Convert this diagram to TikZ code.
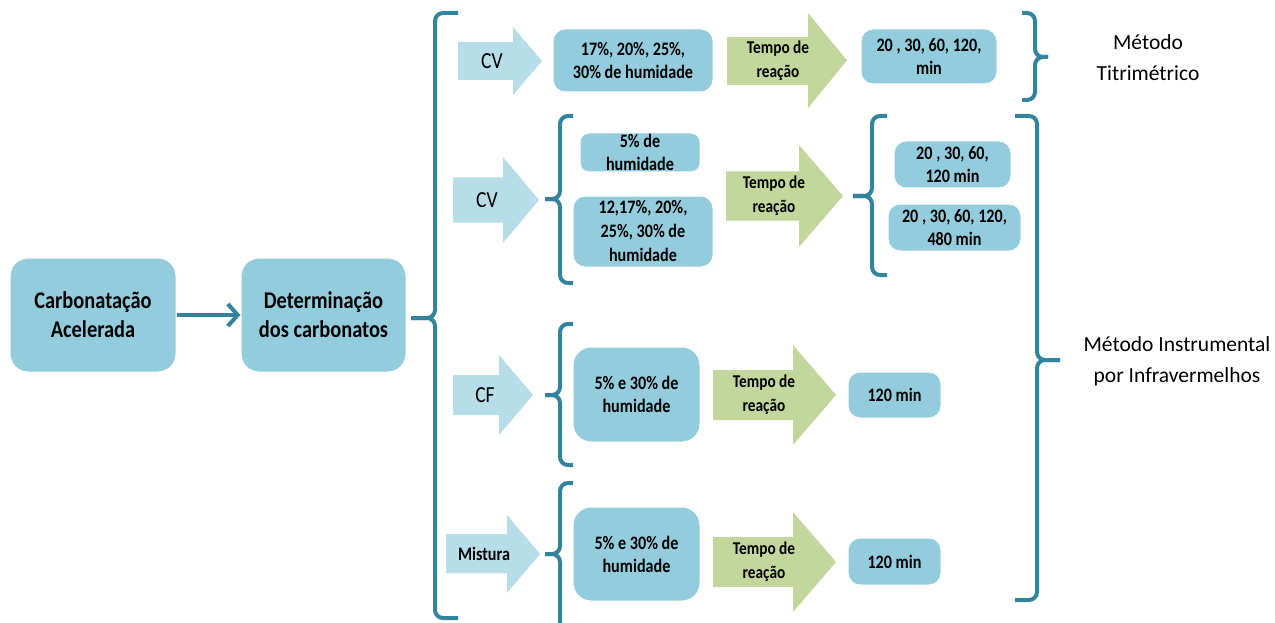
\documentclass[tikz,border=0pt]{standalone}
\usepackage{fontspec}
\setmainfont{Carlito}[FakeStretch=0.85]
\newfontfamily\widefont{Carlito}
\usetikzlibrary{arrows.meta}
\definecolor{darkteal}{HTML}{31849B}
\definecolor{boxblue}{HTML}{93CDDD}
\definecolor{paleblue}{HTML}{B7DEE8}
\definecolor{palegreen}{HTML}{C3D69B}
\tikzset{
	box/.style={fill=boxblue, draw=white, line width=1, rounded corners=12, align=center, inner sep=0, font=\bfseries\fontsize{19}{23}\selectfont},
	bigbox/.style={box, rounded corners=18, font=\bfseries\fontsize{24}{29}\selectfont},
	bracket/.style={draw=darkteal, line width=4, rounded corners=8},
	link/.style={draw=darkteal, line width=4, -{Straight Barb[length=10,width=22]}},
	fatarrow/.style={fill=paleblue},
	timearrow/.style={fill=palegreen},
	arrowtext/.style={align=center, inner sep=0, font=\fontsize{23}{26}\selectfont},
	tempo/.style={align=center, inner sep=0, font=\bfseries\fontsize{18}{24}\selectfont},
	method/.style={align=center, inner sep=0, font=\widefont\fontsize{21.5}{31}\selectfont}
}

\begin{document}
\begin{tikzpicture}[x=1pt, y=-1pt]
	\useasboundingbox (0,0) rectangle (1275,623);
	\node[bigbox, minimum width=166, minimum height=114] (carb) at (93,315) {Carbonatação\\Acelerada};
	\node[bigbox, minimum width=165, minimum height=114] (deter) at (323.5,315) {Determinação\\dos carbonatos};
	\draw[link] (carb) -- (deter);
	\draw[bracket] (458,13) -- (435,13) -- (435,318) -- (411,318);
	\draw[bracket] (458,618) -- (435,618) -- (435,318) -- (411,318);
	
	\fill[fatarrow] (458,42) -- (513,42) -- (513,27) -- (542,61) -- (513,95) -- (513,80) -- (458,80) -- cycle;
	\node[arrowtext] (cvA) at (492,61) {CV};
	\node[box, minimum width=160, minimum height=63] (humA) at (633,60.5) {17\%, 20\%, 25\%,\\30\% de humidade};
	\fill[timearrow] (727,37) -- (808,37) -- (808,13) -- (847,60.5) -- (808,108) -- (808,85) -- (727,85) -- cycle;
	\node[tempo] (tempoA) at (778,60.5) {Tempo de\\reação};
	\node[box, minimum width=136, minimum height=55] (timeA) at (929,56.5) {20 , 30, 60, 120,\\min};
	\draw[bracket] (1022,13) -- (1035,13) -- (1035,57) -- (1048,57);
	\draw[bracket] (1022,100) -- (1035,100) -- (1035,57) -- (1048,57);
	\node[method] (titr) at (1148,58) {Método\\Titrimétrico};
	
	\fill[fatarrow] (453,177.5) -- (503,177.5) -- (503,157) -- (539,200) -- (503,243) -- (503,222.5) -- (453,222.5) -- cycle;
	\node[arrowtext] (cvB) at (487,200) {CV};
	\draw[bracket] (573,116) -- (560,116) -- (560,199) -- (545,199);
	\draw[bracket] (573,283) -- (560,283) -- (560,199) -- (545,199);
	\node[box, rounded corners=9, minimum width=120, minimum height=39] (humB) at (640,152.5) {5\% de\\humidade};
	\node[box, minimum width=140, minimum height=71, font=\bfseries\fontsize{19}{24}\selectfont] (humC) at (643,231.5) {12,17\%, 20\%,\\25\%, 30\% de\\humidade};
	\fill[timearrow] (726,171.5) -- (799,171.5) -- (799,145) -- (843,196) -- (799,247) -- (799,220.5) -- (726,220.5) -- cycle;
	\node[tempo] (tempoB) at (774,196) {Tempo de\\reação};
	\draw[bracket] (887,116) -- (872,116) -- (872,196) -- (853,196);
	\draw[bracket] (887,275) -- (872,275) -- (872,196) -- (853,196);
	\node[box, minimum width=117, minimum height=47] (timeB) at (952.5,164.5) {20 , 30, 60,\\120 min};
	\node[box, minimum width=133, minimum height=47] (timeC) at (954.5,227.5) {20 , 30, 60, 120,\\480 min};
	\draw[bracket] (1015,116) -- (1037,116) -- (1037,360) -- (1060,360);
	\draw[bracket] (1015,600) -- (1037,600) -- (1037,360) -- (1060,360);
	\node[method] (instr) at (1177,361) {Método Instrumental\\por Infravermelhos};
	
	\fill[fatarrow] (453,375) -- (499,375) -- (499,355) -- (533,395) -- (499,435) -- (499,415) -- (453,415) -- cycle;
	\node[arrowtext] (cfC) at (485,395) {CF};
	\draw[bracket] (573,324) -- (560,324) -- (560,395) -- (545,395);
	\draw[bracket] (573,465) -- (560,465) -- (560,395) -- (545,395);
	\node[box, rounded corners=18, minimum width=127, minimum height=95] (humD) at (636.5,394.5) {5\% e 30\% de\\humidade};
	\fill[timearrow] (713,370) -- (793,370) -- (793,345) -- (836,395) -- (793,445) -- (793,420) -- (713,420) -- cycle;
	\node[tempo] (tempoC) at (764,395) {Tempo de\\reação};
	\node[box, minimum width=93, minimum height=46] (timeD) at (894.5,395) {120 min};
	
	\fill[fatarrow] (446,534) -- (507,534) -- (507,515) -- (540,554) -- (507,593) -- (507,573) -- (446,573) -- cycle;
	\node[arrowtext, font=\bfseries\fontsize{19}{22}\selectfont] (mixE) at (484,554) {Mistura};
	\draw[bracket] (573,483) -- (560,483) -- (560,554) -- (545,554);
	\draw[bracket] (573,640) -- (560,640) -- (560,554) -- (545,554);
	\node[box, rounded corners=18, minimum width=127, minimum height=94] (humE) at (636.5,554) {5\% e 30\% de\\humidade};
	\fill[timearrow] (713,537) -- (793,537) -- (793,512) -- (836,562) -- (793,612) -- (793,587) -- (713,587) -- cycle;
	\node[tempo] (tempoD) at (764,562) {Tempo de\\reação};
	\node[box, minimum width=93, minimum height=47] (timeE) at (894.5,561.5) {120 min};
\end{tikzpicture}
\end{document}
